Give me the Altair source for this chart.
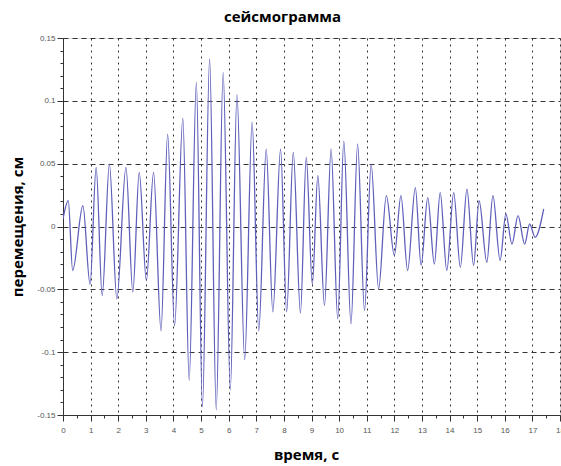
import altair as alt
import pandas as pd

# time (s) of each extremum
t = [0.0, 0.19, 0.35, 0.72, 0.98, 1.2, 1.42, 1.68, 1.95, 2.28, 2.53, 2.76, 3.02,
     3.28, 3.55, 3.79, 4.04, 4.34, 4.57, 4.83, 5.05, 5.31, 5.55, 5.8, 6.06, 6.3,
     6.58, 6.85, 7.09, 7.36, 7.6, 7.88, 8.1, 8.34, 8.6, 8.81, 9.03, 9.23, 9.47,
     9.71, 9.95, 10.17, 10.43, 10.67, 10.92, 11.16, 11.43, 11.71, 12.0, 12.24,
     12.48, 12.76, 12.97, 13.21, 13.45, 13.66, 13.9, 14.15, 14.39, 14.63, 14.87,
     15.07, 15.35, 15.57, 15.83, 16.04, 16.26, 16.48, 16.72, 16.9, 17.1, 17.41]
# displacement (cm)
u = [0.006, 0.0205, -0.035, 0.0165, -0.046, 0.047, -0.055, 0.0497, -0.0576,
     0.047, -0.052, 0.043, -0.043, 0.043, -0.083, 0.0735, -0.079, 0.0862,
     -0.1225, 0.1146, -0.1435, 0.1335, -0.146, 0.1226, -0.13, 0.105, -0.106,
     0.083, -0.083, 0.0616, -0.068, 0.0616, -0.068, 0.059, -0.069, 0.055,
     -0.046, 0.0404, -0.063, 0.0616, -0.0735, 0.068, -0.0775, 0.0656, -0.067,
     0.0497, -0.0497, 0.0245, -0.023, 0.0245, -0.035, 0.031, -0.031, 0.023,
     -0.030, 0.027, -0.035, 0.027, -0.0325, 0.0298, -0.031, 0.0205, -0.0285,
     0.0245, -0.027, 0.010, -0.014, 0.0086, -0.014, 0.002, -0.0086, 0.014]

x_ticks = [i * 0.5 for i in range(0, 37)]
y_ticks = [round(-0.15 + i * 0.01, 2) for i in range(0, 31)]

df = pd.DataFrame({"t": t, "u": u})

FONT = "Open Sans"
LABEL_FONT = "Liberation Sans"

x_axis = alt.Axis(
    values=x_ticks,
    labelExpr="datum.value % 1 === 0 ? datum.value + '' : ''",
    tickSize={"condition": {"test": "datum.value % 1 === 0", "value": 6}, "value": 3},
    gridOpacity={"condition": {"test": "datum.value % 1 === 0", "value": 1}, "value": 0},
    grid=True,
    gridDash=[2, 4],
    gridColor="#333",
    gridWidth=1,
    domainColor="#333",
    tickColor="#333",
    labelFont=LABEL_FONT,
    labelFontSize=8,
    labelColor="#555",
    labelPadding=5,
    labelFlush=False,
    labelOverlap=False,
    title="время, с",
    titleFont=FONT,
    titleFontSize=15,
    titleFontWeight="bold",
    titleColor="#000",
    titlePadding=13,
    titleX=243,
)

y_axis = alt.Axis(
    values=y_ticks,
    labelExpr="abs(round(datum.value*100)) % 5 === 0 ? datum.value + '' : ''",
    tickSize={"condition": {"test": "abs(round(datum.value*100)) % 5 === 0", "value": 6}, "value": 3},
    gridOpacity={"condition": {"test": "abs(round(datum.value*100)) % 5 === 0", "value": 1}, "value": 0},
    grid=True,
    gridDash=[5, 4],
    gridColor="#333",
    gridWidth=1,
    domainColor="#333",
    tickColor="#333",
    labelFont=LABEL_FONT,
    labelFontSize=8,
    labelColor="#555",
    labelPadding=2,
    labelFlush=False,
    labelOverlap=False,
    title="перемещения, см",
    titleFont=FONT,
    titleFontSize=15,
    titleFontWeight="bold",
    titleColor="#000",
    titlePadding=11,
)

chart = (
    alt.Chart(df)
    .mark_line(color="#6060bb", strokeWidth=1.3, interpolate="monotone", clip=True)
    .encode(
        x=alt.X("t:Q", scale=alt.Scale(domain=[0, 18], nice=False, zero=False), axis=x_axis),
        y=alt.Y("u:Q", scale=alt.Scale(domain=[-0.15, 0.15], nice=False, zero=False), axis=y_axis),
    )
    .properties(
        width=497,
        height=377,
        autosize="none",
        padding={"left": 63, "top": 38, "right": 1, "bottom": 51},
        title=alt.TitleParams(
            "сейсмограмма",
            font=FONT,
            fontSize=15,
            fontWeight="bold",
            color="#000",
            anchor="middle",
            dx=-29,
            offset=9,
        ),
    )
    .configure_view(stroke="#333", strokeWidth=1)
    .configure(background="white")
)

chart.save("out.html", embed_options={"renderer": "svg", "actions": False})
